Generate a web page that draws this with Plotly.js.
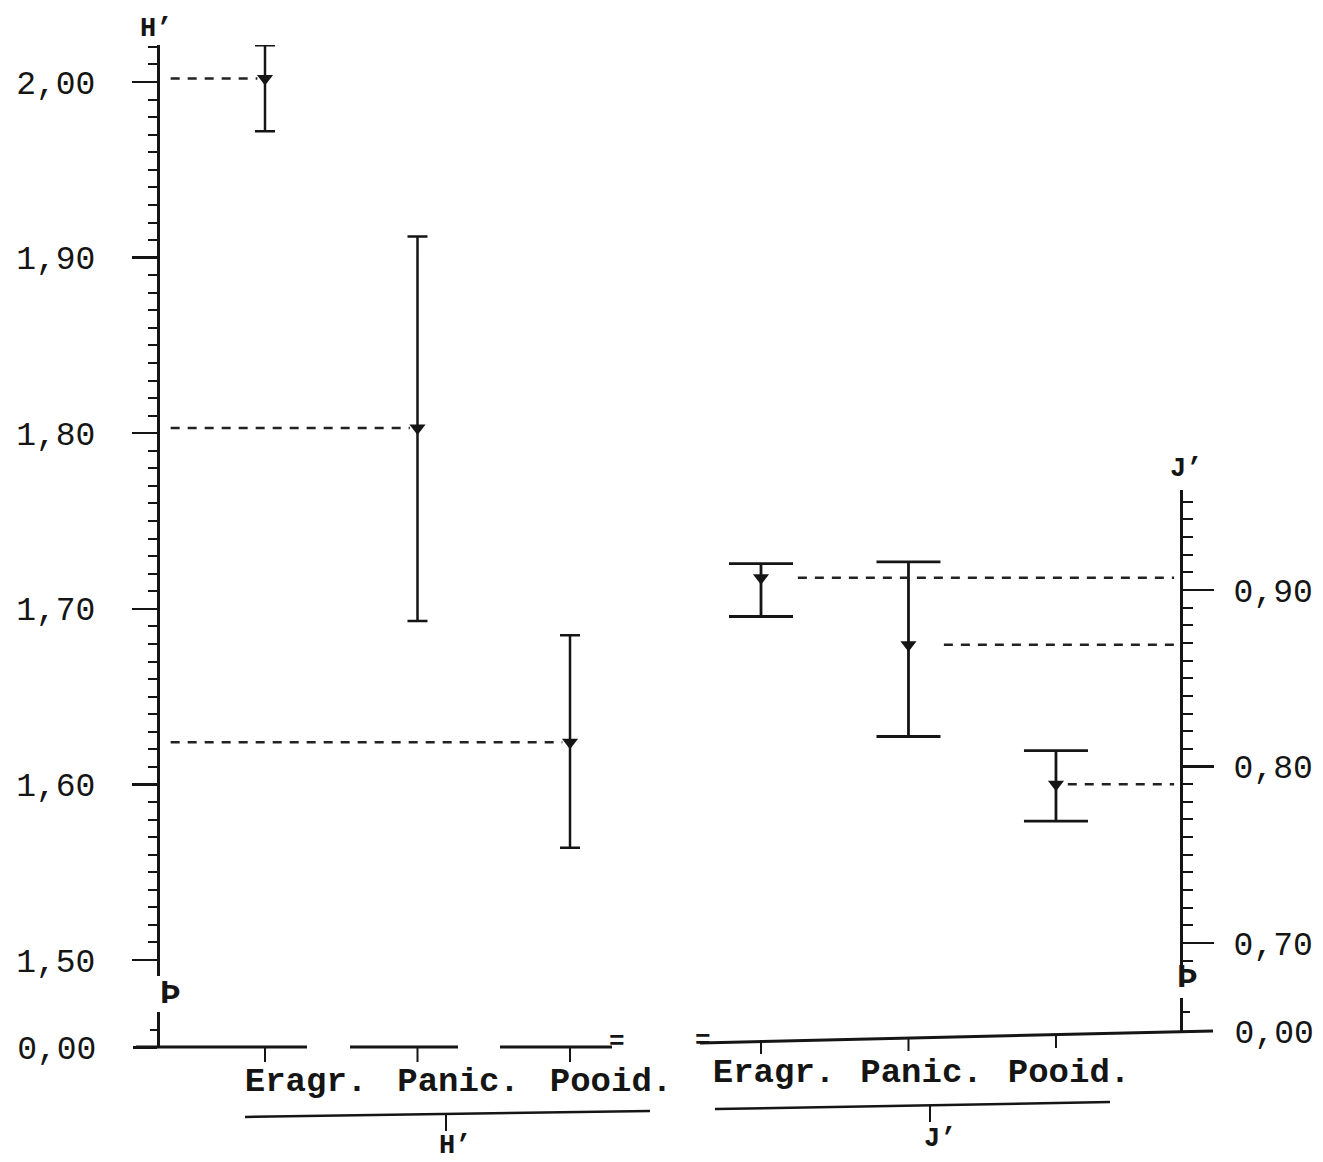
<!DOCTYPE html>
<html>
<head>
<meta charset="utf-8">
<script src="https://cdn.plot.ly/plotly-3.0.1.min.js"></script>
<style>html,body{margin:0;padding:0;background:#fff;}#chart{width:1323px;height:1162px;}</style>
</head>
<body>
<div id="chart"></div>
<script>
// ---- data ----
const categories = ['Eragr.', 'Panic.', 'Pooid.'];
const hMean  = [2.002, 1.803, 1.624];
const hUpper = [2.021, 1.912, 1.685];
const hLower = [1.972, 1.693, 1.564];
const jMean  = [0.907, 0.869, 0.790];
const jUpper = [0.915, 0.916, 0.809];
const jLower = [0.885, 0.817, 0.769];
const hTickVals = [1.5, 1.6, 1.7, 1.8, 1.9, 2.0];
const hTickText = ['1,50', '1,60', '1,70', '1,80', '1,90', '2,00'];
const jTickVals = [0.7, 0.8, 0.9];
const jTickText = ['0,70', '0,80', '0,90'];
const zeroTickVals = [0];
const zeroTickText = ['0,00'];
const axisNames = ['H’', 'J’'];

// ---- layout geometry helpers (pixel -> paper) ----
const W = 1323, Hh = 1162;
const L = 160, R = 143, T = 40, B = 115;
const PW = W - L - R, PH = Hh - T - B;
const fx = x => (x - L) / PW;
const fy = y => (Hh - B - y) / PH;

const ink = '#151515';
const monoFont = 'Liberation Mono, Courier New, monospace';

const hRange = [1.4909, 2.0211];
const jRange = [0.6858, 0.9567];
const x1Range = [-0.6885, 2.455];
const x2Range = [-0.617, 2.841];

const traces = [
  {
    x: categories, y: hMean, xaxis: 'x', yaxis: 'y', type: 'scatter', mode: 'markers',
    marker: {symbol: 'triangle-down', size: 14, color: ink},
    error_y: {type: 'data', symmetric: false,
      array: hUpper.map((u, i) => u - hMean[i]),
      arrayminus: hLower.map((l, i) => hMean[i] - l),
      width: 10, thickness: 2.5, color: ink},
    showlegend: false, hoverinfo: 'skip'
  },
  {
    x: categories, y: jMean, xaxis: 'x2', yaxis: 'y2', type: 'scatter', mode: 'markers',
    marker: {symbol: 'triangle-down', size: 14, color: ink},
    error_y: {type: 'data', symmetric: false,
      array: jUpper.map((u, i) => u - jMean[i]),
      arrayminus: jLower.map((l, i) => jMean[i] - l),
      width: 32, thickness: 2.8, color: ink},
    showlegend: false, hoverinfo: 'skip'
  },
  // empty traces so that the short "0,00" axis segments are created
  {x: categories, y: categories.map(() => null), xaxis: 'x', yaxis: 'y3', type: 'scatter', mode: 'markers', showlegend: false, hoverinfo: 'skip'},
  {x: categories, y: categories.map(() => null), xaxis: 'x2', yaxis: 'y4', type: 'scatter', mode: 'markers', showlegend: false, hoverinfo: 'skip'}
];

const dashStyle = {color: '#222', width: 2.5, dash: '9px,8px'};
const shapes = [];
// dashed reference lines, H' to the left axis
hMean.forEach((m, i) => {
  shapes.push({type: 'line', xref: 'x', yref: 'y', x0: x1Range[0] + 0.07, x1: i - 0.05, y0: m, y1: m, line: dashStyle});
});
// dashed reference lines, J' to the right axis
const jGap = [0.25, 0.24, 0.08];
jMean.forEach((m, i) => {
  shapes.push({type: 'line', xref: 'x2', yref: 'y2', x0: i + jGap[i], x1: x2Range[1] - 0.04, y0: m, y1: m, line: dashStyle});
});
// category tick marks below the baselines
categories.forEach((c, i) => {
  shapes.push({type: 'line', xref: 'x', yref: 'paper', x0: i, x1: i, y0: fy(1047), y1: fy(1062), line: {color: ink, width: 2}});
  shapes.push({type: 'line', xref: 'x2', yref: 'paper', x0: i, x1: i, y0: fy(1040 - i * 3), y1: fy(1054 - i * 3), line: {color: ink, width: 2}});
});
// baselines, short ticks on the broken segments, and group brackets (paper coordinates)
const seg = (x0, y0, x1, y1, w) => ({type: 'line', xref: 'paper', yref: 'paper',
  x0: fx(x0), y0: fy(y0), x1: fx(x1), y1: fy(y1), line: {color: ink, width: w || 2.5}});
shapes.push(seg(136, 1047, 307, 1047, 3));
shapes.push(seg(350, 1047, 458, 1047, 3));
shapes.push(seg(500, 1047, 612, 1047, 3));
shapes.push(seg(700, 1043, 1213, 1031, 3));
shapes.push(seg(150, 1030, 160, 1030, 2));
shapes.push(seg(1180, 1012, 1190, 1012, 2));
shapes.push(seg(245, 1117, 650, 1111, 2.5));
shapes.push(seg(446, 1114, 446, 1131, 2));
shapes.push(seg(715, 1109, 1110, 1102, 2.5));
shapes.push(seg(930, 1106, 930, 1122, 2));

const ann = (x, y, text, size, bold) => ({xref: 'paper', yref: 'paper', x: fx(x), y: fy(y),
  xanchor: 'center', yanchor: 'middle', showarrow: false, text: text,
  font: {family: monoFont, size: size, color: ink, weight: bold ? 700 : 400}});
const annotations = [
  ann(156, 29, axisNames[0], 27, true),
  ann(1186, 469, axisNames[1], 27, true),
  ann(455, 1146, axisNames[0], 27, true),
  ann(940, 1139, axisNames[1], 27, true),
  ann(170, 994, 'Þ', 34, true),
  ann(1187, 978, 'Þ', 34, true),
  ann(617, 1042, '=', 26, true),
  ann(703, 1041, '=', 26, true)
];

const tickFont = {family: monoFont, size: 33, color: ink};
const catFont = {family: monoFont, size: 34, color: ink, weight: 700};

const layout = {
  width: W, height: Hh,
  margin: {l: L, r: R, t: T, b: B},
  paper_bgcolor: '#fff', plot_bgcolor: '#fff',
  showlegend: false,
  xaxis: {domain: [0, 0.47], type: 'category', range: x1Range, anchor: 'free', position: 0,
    showline: false, showgrid: false, zeroline: false, ticks: '',
    tickfont: catFont, ticklabelshift: 41, ticklabelstandoff: 9},
  xaxis2: {domain: [0.5, 1], type: 'category', range: x2Range, anchor: 'free', position: fy(1037),
    showline: false, showgrid: false, zeroline: false, ticks: '',
    tickfont: catFont, ticklabelshift: 13, ticklabelstandoff: 10},
  yaxis: {domain: [fy(976), fy(45)], range: hRange, anchor: 'x', side: 'left',
    showline: true, linewidth: 3, linecolor: ink, showgrid: false, zeroline: false,
    tickmode: 'array', tickvals: hTickVals, ticktext: hTickText,
    ticks: 'outside', ticklen: 25, tickwidth: 2.5, tickcolor: ink,
    tickfont: tickFont, ticklabelstandoff: 30,
    minor: {tickmode: 'linear', tick0: 1.5, dtick: 0.01, ticks: 'outside', ticklen: 9, tickwidth: 2, tickcolor: ink, showgrid: false}},
  yaxis3: {domain: [0, fy(1012)], range: [0, 1], anchor: 'x', side: 'left',
    showline: true, linewidth: 3, linecolor: ink, showgrid: false, zeroline: false,
    tickmode: 'array', tickvals: zeroTickVals, ticktext: zeroTickText,
    ticks: 'outside', ticklen: 24, tickwidth: 3, tickcolor: ink,
    tickfont: tickFont, ticklabelstandoff: 30},
  yaxis2: {domain: [fy(968), fy(490)], range: jRange, anchor: 'x2', side: 'right',
    showline: true, linewidth: 3, linecolor: ink, showgrid: false, zeroline: false,
    tickmode: 'array', tickvals: jTickVals, ticktext: jTickText,
    ticks: 'outside', ticklen: 31, tickwidth: 2.5, tickcolor: ink,
    tickfont: tickFont, ticklabelstandoff: 13,
    minor: {tickmode: 'linear', tick0: 0.7, dtick: 0.01, ticks: 'outside', ticklen: 10, tickwidth: 2, tickcolor: ink, showgrid: false}},
  yaxis4: {domain: [fy(1031), fy(998)], range: [0, 1], anchor: 'x2', side: 'right',
    showline: true, linewidth: 3, linecolor: ink, showgrid: false, zeroline: false,
    tickmode: 'array', tickvals: zeroTickVals, ticktext: zeroTickText,
    ticks: 'outside', ticklen: 0, tickwidth: 3, tickcolor: ink,
    tickfont: tickFont, ticklabelstandoff: 45},
  shapes: shapes,
  annotations: annotations
};

Plotly.newPlot('chart', traces, layout, {staticPlot: true, displayModeBar: false});
</script>
</body>
</html>
